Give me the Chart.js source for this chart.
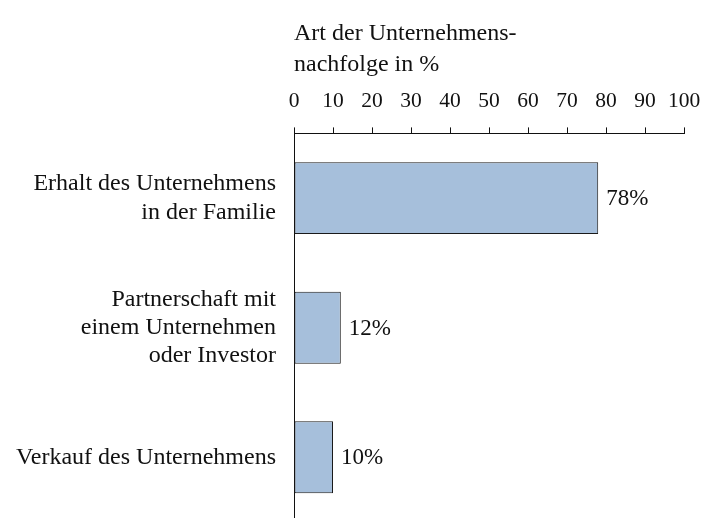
<!DOCTYPE html>
<html>
<head>
<meta charset="utf-8">
<script src="https://cdn.jsdelivr.net/npm/chart.js@4/dist/chart.umd.min.js"></script>
<style>
  html, body { margin: 0; padding: 0; background: #fff; overflow: hidden; }
  canvas { display: block; }
</style>
</head>
<body>
<!-- a few px taller than the window so the plot runs off the bottom like the reference -->
<canvas id="chart" width="705" height="522"></canvas>
<script>
const categories = [
  [`Erhalt des Unternehmens`, `in der Familie`],
  [`Partnerschaft mit`, `einem Unternehmen`, `oder Investor`],
  [`Verkauf des Unternehmens`]
];
const shares = [78, 12, 10];
const titleLines = [`Art der Unternehmens-`, `nachfolge in %`];
const serif = `"Liberation Serif", "Times New Roman", serif`;

// writes "78%" etc. just right of each bar
const valueLabels = {
  id: `valueLabels`,
  afterDatasetsDraw(chart) {
    const ctx = chart.ctx;
    const meta = chart.getDatasetMeta(0);
    ctx.save();
    ctx.font = `23px ${serif}`;
    ctx.fillStyle = `#111`;
    ctx.textBaseline = `middle`;
    ctx.textAlign = `left`;
    meta.data.forEach((bar, i) => {
      ctx.fillText(`${shares[i]}%`, bar.x + 8, bar.y + 1);
    });
    ctx.restore();
  }
};

new Chart(`chart`, {
  type: `bar`,
  data: {
    labels: categories,
    datasets: [{
      data: shares,
      backgroundColor: `#a6bfdb`,
      borderColor: `#1a1a1a`,
      borderWidth: 1,
      borderSkipped: false,
      barPercentage: 0.555,
      categoryPercentage: 1
    }]
  },
  options: {
    indexAxis: `y`,
    responsive: false,
    animation: false,
    layout: { padding: { left: 0, right: 21, top: 0, bottom: 0 } },
    plugins: {
      legend: { display: false },
      tooltip: { enabled: false },
      title: {
        display: true,
        text: titleLines,
        fullSize: false,
        align: `start`,
        color: `#111`,
        font: { family: serif, size: 24, weight: `normal`, lineHeight: 1.3 },
        padding: { top: 18, bottom: 7 }
      }
    },
    scales: {
      x: {
        position: `top`,
        min: 0,
        max: 100,
        ticks: {
          stepSize: 10,
          color: `#111`,
          padding: 13,
          maxRotation: 0,
          font: { family: serif, size: 21.5 }
        },
        grid: {
          drawOnChartArea: false,
          drawTicks: true,
          tickLength: 6,
          color: `#111`
        },
        border: { display: true, color: `#111`, width: 1 },
        afterFit(scale) {
          scale.height = 46;
          scale.paddingLeft = 0;
          scale.paddingRight = 0;
        }
      },
      y: {
        offset: true,
        ticks: {
          color: `#111`,
          padding: 18,
          font: { family: serif, size: 24, lineHeight: 1.17 }
        },
        grid: { display: false, drawTicks: false },
        border: { display: true, color: `#111`, width: 1 },
        afterFit(scale) {
          scale.width = 294;
          scale.paddingTop = 0;
          scale.paddingBottom = 0;
        }
      }
    }
  },
  plugins: [valueLabels]
});
</script>
</body>
</html>
